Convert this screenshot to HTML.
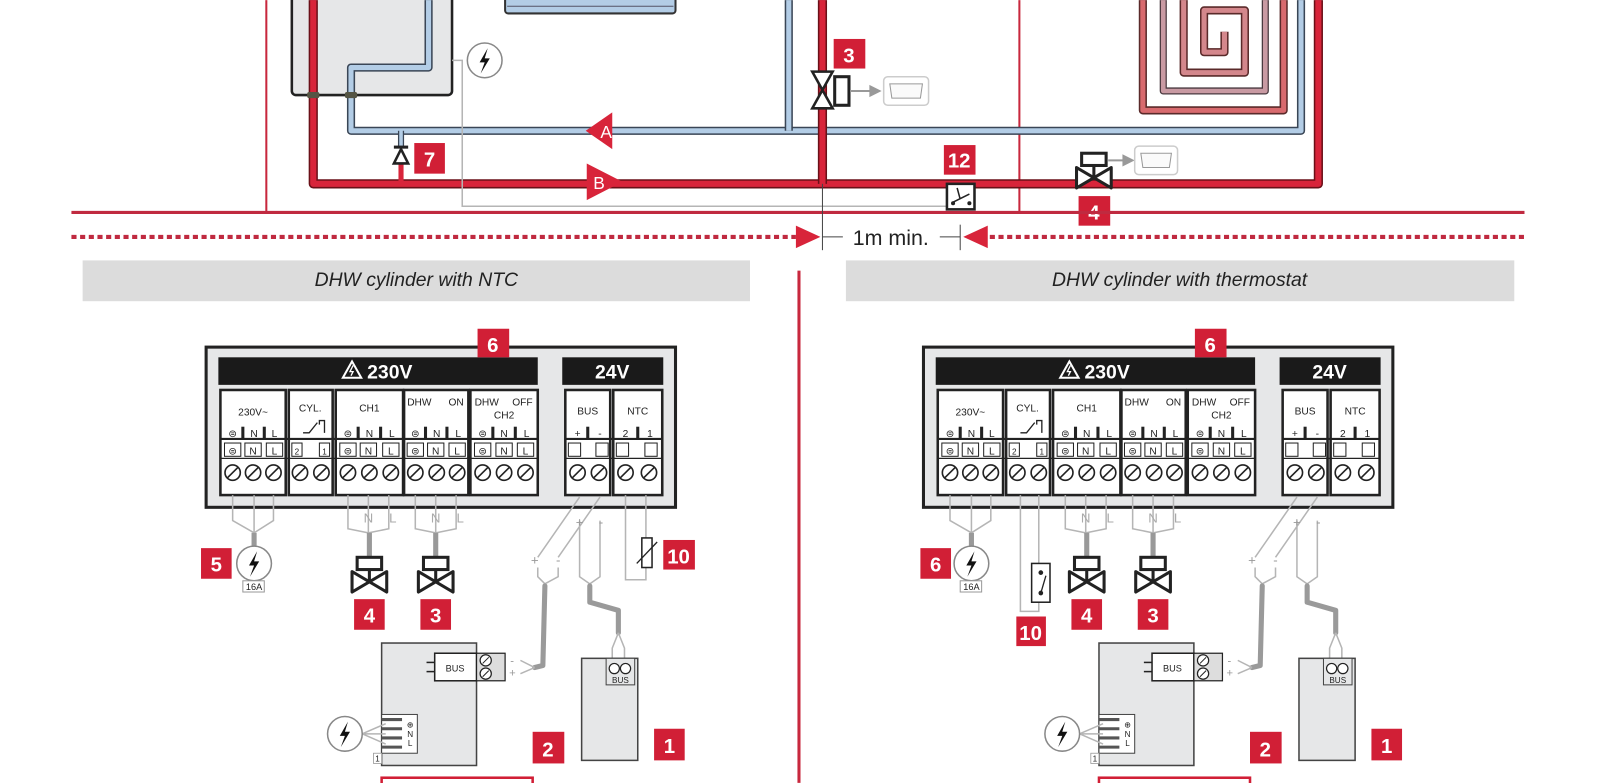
<!DOCTYPE html>
<html><head><meta charset="utf-8"><style>
html,body{margin:0;padding:0;background:#fff;}
svg{display:block;}
text{font-family:"Liberation Sans","DejaVu Sans",sans-serif;}
.lb{fill:#d11f36;}
.lt{fill:#fff;font-weight:bold;font-size:20px;text-anchor:middle;}
.gw{fill:none;stroke:#b5b5b5;stroke-width:1.5;}
.gc{fill:none;stroke:#9a9a9a;stroke-width:5;stroke-linecap:round;stroke-linejoin:round;}
.tt{font-size:10px;fill:#222;text-anchor:middle;font-family:"DejaVu Sans Condensed","Liberation Sans",sans-serif;}
</style></head><body>
<svg width="1600" height="783" viewBox="0 0 1568 767" xmlns="http://www.w3.org/2000/svg">
<defs>
<g id="sc"><circle r="7.5" fill="#fff" stroke="#222" stroke-width="1.6"/><line x1="-5" y1="5" x2="5" y2="-5" stroke="#222" stroke-width="1.6"/></g>
<g id="valve"><rect x="-12" y="0" width="24" height="12" fill="#fff" stroke="#222" stroke-width="3"/><line x1="0" y1="12" x2="0" y2="24" stroke="#222" stroke-width="3"/><path d="M-17,14 L17,34 L17,14 L-17,34 Z" fill="#fff" stroke="#222" stroke-width="3" stroke-linejoin="round"/></g>
<g id="bolt"><circle r="17" fill="#fff" stroke="#888" stroke-width="1.5"/><path d="M3,-12 L-5,2 L0,2 L-4,13 L5,-2 L0,-2 Z" fill="#111"/></g>
</defs>

<line x1="261" y1="0" x2="261" y2="208" stroke="#c8283d" stroke-width="2"/>
<line x1="999" y1="0" x2="999" y2="208" stroke="#c8283d" stroke-width="2"/>
<rect x="495" y="-5" width="167" height="18" rx="3" fill="#b3cde6" stroke="#333" stroke-width="2"/>
<line x1="497" y1="6" x2="660" y2="6" stroke="#556" stroke-width="1"/>
<rect x="286" y="-6" width="157" height="99" rx="4" fill="#e6e7e8" stroke="#222" stroke-width="2.5"/>
<g fill="none" stroke-linejoin="round">
<path d="M1120,0 L1120,108 L1258,108 L1258,0" stroke="#5a2a2a" stroke-width="8"/>
<path d="M1120,0 L1120,108 L1258,108 L1258,0" stroke="#d86a6e" stroke-width="5"/>
<path d="M1140,0 L1140,89 L1240,89 L1240,0" stroke="#4a3a40" stroke-width="7"/>
<path d="M1140,0 L1140,89 L1240,89 L1240,0" stroke="#c99aa3" stroke-width="4.5"/>
<path d="M1160,0 L1160,71 L1220,71 L1220,10 L1180,10 L1180,51 L1200,51 L1200,31" stroke="#5a2a2a" stroke-width="8"/>
<path d="M1160,0 L1160,71 L1220,71 L1220,10 L1180,10 L1180,51 L1200,51 L1200,31" stroke="#d4878c" stroke-width="5"/>
</g>
<g fill="none" stroke-linejoin="round">
<path d="M420,0 L420,66 L344,66 L344,128 L1275,128 L1275,0" stroke="#3a4656" stroke-width="8"/>
<path d="M420,0 L420,66 L344,66 L344,128 L1275,128 L1275,0" stroke="#b3cde6" stroke-width="5"/>
<path d="M773,0 L773,128" stroke="#3a4656" stroke-width="8"/>
<path d="M773,0 L773,128" stroke="#b3cde6" stroke-width="5"/>
<path d="M393,128 L393,145" stroke="#3a4656" stroke-width="6"/>
<path d="M393,126 L393,145" stroke="#b3cde6" stroke-width="3.5"/>
</g>
<g fill="none" stroke-linejoin="round">
<path d="M307,0 L307,180 L1292,180 L1292,0" stroke="#6a1018" stroke-width="9"/>
<path d="M307,0 L307,180 L1292,180 L1292,0" stroke="#d8243a" stroke-width="6"/>
<path d="M806,0 L806,180" stroke="#6a1018" stroke-width="9"/>
<path d="M806,0 L806,182" stroke="#d8243a" stroke-width="6"/>
<path d="M393,160 L393,180" stroke="#d8243a" stroke-width="5"/>
</g>
<rect x="301" y="90" width="12" height="6" rx="2" fill="#554" /><rect x="338" y="90" width="12" height="6" rx="2" fill="#554"/>
<path d="M574,128 L600,110 L600,146 Z" fill="#d8243a"/><text x="594" y="135" font-size="17" fill="#fff" text-anchor="middle">A</text>
<path d="M575,160 L610,178 L575,196 Z" fill="#d8243a"/><text x="587" y="185" font-size="17" fill="#fff" text-anchor="middle">B</text>
<line x1="386" y1="144" x2="400" y2="144" stroke="#222" stroke-width="3"/>
<path d="M393,146 L386,160 L400,160 Z" fill="#fff" stroke="#222" stroke-width="2.5"/>
<rect class="lb" x="406" y="140" width="30" height="30"/><text class="lt" x="421" y="163">7</text>
<path d="M443,59 L453,59 L453,202 L928,202" class="gw"/>
<use href="#bolt" x="475" y="59"/>
<path d="M796,70 L816,70 L796,106 L816,106 Z" fill="#fff" stroke="#222" stroke-width="2.5"/>
<rect x="818" y="75" width="14" height="28" fill="#fff" stroke="#222" stroke-width="3"/>
<line x1="833" y1="89" x2="856" y2="89" stroke="#999" stroke-width="2"/><path d="M852,83 L864,89 L852,95 Z" fill="#999"/>
<rect x="866" y="75" width="44" height="28" rx="4" fill="#fff" stroke="#ccc" stroke-width="1.5"/><path d="M872,82 L904,82 L902,96 L874,96 Z" fill="#fafafa" stroke="#999"/>
<rect class="lb" x="817" y="38" width="31" height="29"/><text class="lt" x="832" y="61">3</text>
<rect class="lb" x="925" y="142" width="31" height="29"/><text class="lt" x="940" y="164">12</text>
<rect x="928" y="180" width="27" height="25" fill="#fff" stroke="#222" stroke-width="2.5"/>
<path d="M934,198 L950,190 M938,184 L941,195" stroke="#222" stroke-width="1.5"/><circle cx="934" cy="199" r="2" fill="#222"/><circle cx="950" cy="199" r="2" fill="#222"/>
<use href="#valve" x="1072" y="150"/>
<line x1="1086" y1="157" x2="1104" y2="157" stroke="#999" stroke-width="2"/><path d="M1100,151 L1112,157 L1100,163 Z" fill="#999"/>
<rect x="1112" y="143" width="42" height="28" rx="4" fill="#fff" stroke="#ccc" stroke-width="1.5"/><path d="M1118,150 L1148,150 L1146,164 L1120,164 Z" fill="#fafafa" stroke="#999"/>
<rect class="lb" x="1057" y="192" width="31" height="29"/><text class="lt" x="1072" y="215">4</text>
<line x1="70" y1="208" x2="1494" y2="208" stroke="#c02a40" stroke-width="3"/>
<line x1="70" y1="232" x2="780" y2="232" stroke="#c02a40" stroke-width="4" stroke-dasharray="5,3.5"/>
<line x1="970" y1="232" x2="1494" y2="232" stroke="#c02a40" stroke-width="4" stroke-dasharray="5,3.5"/>
<path d="M780,221 L804,232 L780,243 Z" fill="#d8243a"/><path d="M968,221 L944,232 L968,243 Z" fill="#d8243a"/>
<line x1="806" y1="180" x2="806" y2="245" stroke="#444" stroke-width="1"/>
<line x1="941" y1="220" x2="941" y2="245" stroke="#444" stroke-width="1"/>
<line x1="806" y1="232" x2="826" y2="232" stroke="#444"/><line x1="921" y1="232" x2="941" y2="232" stroke="#444"/>
<text x="873" y="240" font-size="21" fill="#222" text-anchor="middle">1m min.</text>

<rect x="81" y="255" width="654" height="40" fill="#dcdcdc"/>
<text x="408" y="280" font-size="19" font-style="italic" fill="#222" text-anchor="middle">DHW cylinder with NTC</text>
<rect x="829" y="255" width="655" height="40" fill="#dcdcdc"/>
<text x="1156" y="280" font-size="19" font-style="italic" fill="#222" text-anchor="middle">DHW cylinder with thermostat</text>
<line x1="783" y1="265" x2="783" y2="767" stroke="#c8283d" stroke-width="3"/>

<g id="pan">
<rect x="202" y="340" width="460" height="157" fill="#e6e7e8" stroke="#222" stroke-width="3"/>
<rect x="214" y="350" width="313" height="27" fill="#1a1a1a"/>
<path d="M345,354 L336,370 L354,370 Z" fill="none" stroke="#fff" stroke-width="2"/><path d="M346,358 L343,364 L346,364 L344,368" stroke="#fff" stroke-width="1.3" fill="none"/>
<text x="382" y="371" font-size="19" font-weight="bold" fill="#fff" text-anchor="middle">230V</text>
<rect x="551" y="350" width="99" height="27" fill="#1a1a1a"/>
<text x="600" y="371" font-size="19" font-weight="bold" fill="#fff" text-anchor="middle">24V</text>
<rect class="lb" x="468" y="322" width="31" height="28"/>
<g fill="#fff" stroke="#222" stroke-width="2.5">
<rect x="216" y="382" width="64" height="103"/><rect x="283" y="382" width="43" height="103"/><rect x="329" y="382" width="66" height="103"/><rect x="396" y="382" width="63" height="103"/><rect x="461" y="382" width="66" height="103"/><rect x="554" y="382" width="44" height="103"/><rect x="601" y="382" width="48" height="103"/>
</g>
<g stroke="#222" stroke-width="2">
<line x1="216" y1="430" x2="527" y2="430"/><line x1="554" y1="430" x2="649" y2="430"/>
<line x1="216" y1="449" x2="527" y2="449" stroke-width="1.2"/><line x1="554" y1="449" x2="649" y2="449" stroke-width="1.2"/>
</g>
<g stroke="#222" stroke-width="3">
<line x1="238" y1="418" x2="238" y2="431"/><line x1="259" y1="418" x2="259" y2="431"/>
<line x1="351" y1="418" x2="351" y2="431"/><line x1="373" y1="418" x2="373" y2="431"/>
<line x1="417" y1="418" x2="417" y2="431"/><line x1="438" y1="418" x2="438" y2="431"/>
<line x1="483" y1="418" x2="483" y2="431"/><line x1="505" y1="418" x2="505" y2="431"/>
<line x1="576" y1="418" x2="576" y2="431"/><line x1="625" y1="418" x2="625" y2="431"/>
</g>
<g stroke="#222" stroke-width="1" fill="none">
<rect x="220" y="434" width="16" height="13"/><rect x="240" y="434" width="16" height="13"/><rect x="261" y="434" width="16" height="13"/>
<rect x="286" y="434" width="10" height="13"/><rect x="313" y="434" width="10" height="13"/>
<rect x="333" y="434" width="16" height="13"/><rect x="353" y="434" width="16" height="13"/><rect x="375" y="434" width="16" height="13"/>
<rect x="399" y="434" width="16" height="13"/><rect x="419" y="434" width="16" height="13"/><rect x="440" y="434" width="16" height="13"/>
<rect x="465" y="434" width="16" height="13"/><rect x="486" y="434" width="16" height="13"/><rect x="507" y="434" width="16" height="13"/>
<rect x="557" y="434" width="12" height="13"/><rect x="584" y="434" width="12" height="13"/>
<rect x="604" y="434" width="12" height="13"/><rect x="632" y="434" width="12" height="13"/>
</g>
<g class="tt">
<text x="248" y="407">230V~</text><text x="304" y="403">CYL.</text><text x="362" y="403">CH1</text>
<text x="411" y="397">DHW</text><text x="447" y="397">ON</text><text x="477" y="397">DHW</text><text x="512" y="397">OFF</text><text x="494" y="410">CH2</text>
<text x="576" y="406">BUS</text><text x="625" y="406">NTC</text>
<text x="228" y="428">⊜</text><text x="249" y="428">N</text><text x="269" y="428">L</text>
<text x="341" y="428">⊜</text><text x="362" y="428">N</text><text x="384" y="428">L</text>
<text x="407" y="428">⊜</text><text x="428" y="428">N</text><text x="449" y="428">L</text>
<text x="473" y="428">⊜</text><text x="494" y="428">N</text><text x="516" y="428">L</text>
<text x="566" y="428">+</text><text x="588" y="428">-</text><text x="613" y="428">2</text><text x="637" y="428">1</text>
<text x="228" y="445">⊜</text><text x="248" y="445">N</text><text x="269" y="445">L</text>
<text x="291" y="445" font-size="8">2</text><text x="318" y="445" font-size="8">1</text>
<text x="341" y="445">⊜</text><text x="361" y="445">N</text><text x="383" y="445">L</text>
<text x="407" y="445">⊜</text><text x="427" y="445">N</text><text x="448" y="445">L</text>
<text x="473" y="445">⊜</text><text x="494" y="445">N</text><text x="515" y="445">L</text>
</g>
<path d="M297,424 L303,424 L311,414 M313,416 L313,412 L318,412 L318,424" stroke="#222" stroke-width="1.3" fill="none"/>
<g>
<use href="#sc" x="228" y="463"/><use href="#sc" x="248" y="463"/><use href="#sc" x="268" y="463"/>
<use href="#sc" x="294" y="463"/><use href="#sc" x="315" y="463"/>
<use href="#sc" x="341" y="463"/><use href="#sc" x="362" y="463"/><use href="#sc" x="383" y="463"/>
<use href="#sc" x="407" y="463"/><use href="#sc" x="428" y="463"/><use href="#sc" x="448" y="463"/>
<use href="#sc" x="473" y="463"/><use href="#sc" x="494" y="463"/><use href="#sc" x="515" y="463"/>
<use href="#sc" x="566" y="463"/><use href="#sc" x="587" y="463"/>
<use href="#sc" x="613" y="463"/><use href="#sc" x="636" y="463"/>
</g>
<path class="gw" d="M228,485 L228,510 L249,522 M249,485 L249,522 M268,485 L268,510 L249,522"/>
<line x1="249" y1="522" x2="249" y2="536" stroke="#999" stroke-width="5"/>
<use href="#bolt" x="249" y="552"/>
<rect x="238" y="569" width="21" height="11" fill="#fff" stroke="#999"/><text x="249" y="578" font-size="9" text-anchor="middle" fill="#222">16A</text>
<path class="gw" d="M341,485 L341,518 L361,522 M381,485 L381,518 L361,522 M361,485 L361,522"/>
<text x="361" y="512" font-size="13" fill="#aaa" text-anchor="middle">N</text><text x="385" y="512" font-size="13" fill="#aaa" text-anchor="middle">L</text>
<line x1="362" y1="522" x2="362" y2="546" stroke="#999" stroke-width="5"/>
<use href="#valve" x="362" y="546"/>
<rect class="lb" x="347" y="587" width="30" height="30"/><text class="lt" x="362" y="610">4</text>
<path class="gw" d="M407,485 L407,518 L427,522 M447,485 L447,518 L427,522 M427,485 L427,522"/>
<text x="427" y="512" font-size="13" fill="#aaa" text-anchor="middle">N</text><text x="451" y="512" font-size="13" fill="#aaa" text-anchor="middle">L</text>
<line x1="427" y1="522" x2="427" y2="546" stroke="#999" stroke-width="5"/>
<use href="#valve" x="427" y="546"/>
<rect class="lb" x="412" y="587" width="30" height="30"/><text class="lt" x="427" y="610">3</text>
<path class="gw" d="M568,487 L527,546 M588,487 L547,546 M568,510 L568,565 L578,572 M588,510 L588,565 L578,572 M527,556 L527,565 L534,572 M547,556 L547,565 L534,572"/>
<text x="568" y="516" font-size="13" fill="#999" text-anchor="middle">+</text><text x="589" y="516" font-size="13" fill="#999" text-anchor="middle">-</text>
<text x="524" y="553" font-size="13" fill="#999" text-anchor="middle">+</text><text x="547" y="553" font-size="13" fill="#999" text-anchor="middle">-</text>
<path class="gc" d="M578,574 L578,590 L606,598 L606,620"/>
<path class="gc" d="M534,574 L532,652 L524,654"/>
<path class="gw" d="M606,620 L600,635 L600,647 M606,620 L612,635 L612,647 M524,654 L510,647 M524,654 L510,660"/>
<rect x="374" y="630" width="93" height="120" fill="#e6e7e8" stroke="#444" stroke-width="1.5"/>
<rect x="426" y="640" width="41" height="27" fill="#fff" stroke="#222" stroke-width="1.5"/>
<text x="446" y="658" font-size="9" text-anchor="middle" fill="#222">BUS</text>
<line x1="418" y1="649" x2="426" y2="649" stroke="#222" stroke-width="1.5"/><line x1="418" y1="658" x2="426" y2="658" stroke="#222" stroke-width="1.5"/>
<rect x="467" y="640" width="28" height="27" fill="#ddd" stroke="#222" stroke-width="1.2"/>
<circle cx="476" cy="647" r="5.5" fill="#fff" stroke="#222" stroke-width="1.2"/><circle cx="476" cy="660" r="5.5" fill="#fff" stroke="#222" stroke-width="1.2"/>
<line x1="473" y1="650" x2="479" y2="644" stroke="#222"/><line x1="473" y1="663" x2="479" y2="657" stroke="#222"/>
<text x="500" y="651" font-size="11" fill="#999">-</text><text x="499" y="663" font-size="11" fill="#999">+</text>
<rect x="374" y="700" width="35" height="38" fill="#fff" stroke="#444" stroke-width="1"/>
<g stroke="#555" stroke-width="3"><line x1="374" y1="705" x2="394" y2="705"/><line x1="374" y1="714" x2="394" y2="714"/><line x1="374" y1="723" x2="394" y2="723"/><line x1="374" y1="732" x2="394" y2="732"/></g>
<text x="402" y="713" font-size="8" fill="#222" text-anchor="middle">⊕</text><text x="402" y="722" font-size="8" fill="#222" text-anchor="middle">N</text><text x="402" y="731" font-size="8" fill="#222" text-anchor="middle">L</text>
<rect x="366" y="738" width="8" height="10" fill="#fff" stroke="#999" stroke-width="0.8"/><text x="370" y="746" font-size="8" fill="#222" text-anchor="middle">1</text>
<path class="gw" d="M355,719 L378,709 M355,719 L378,719 M355,719 L378,729"/>
<use href="#bolt" x="338" y="719"/>
<rect class="lb" x="522" y="717" width="31" height="31"/><text class="lt" x="537" y="741">2</text>
<rect x="570" y="645" width="55" height="100" fill="#e6e7e8" stroke="#444" stroke-width="1.5"/>
<rect x="594" y="645" width="28" height="26" fill="#e6e7e8" stroke="#444" stroke-width="1"/>
<circle cx="602" cy="655" r="5" fill="#fff" stroke="#222" stroke-width="1.2"/><circle cx="613" cy="655" r="5" fill="#fff" stroke="#222" stroke-width="1.2"/>
<text x="608" y="669" font-size="8" fill="#222" text-anchor="middle">BUS</text>
<rect class="lb" x="641" y="714" width="30" height="31"/><text class="lt" x="656" y="738">1</text>
<rect x="374" y="762" width="148" height="10" fill="none" stroke="#d11f36" stroke-width="2.5"/>
</g>
<text class="lt" x="483" y="345">6</text>
<rect class="lb" x="197" y="537" width="30" height="30"/><text class="lt" x="212" y="560">5</text>
<path class="gw" d="M613,485 L613,568 L633,568 L633,485"/>
<rect x="629" y="527" width="10" height="29" fill="#fff" stroke="#222" stroke-width="1.5"/>
<line x1="624" y1="552" x2="644" y2="531" stroke="#222" stroke-width="1.3"/>
<rect class="lb" x="650" y="529" width="31" height="29"/><text class="lt" x="665" y="552">10</text>

<use href="#pan" x="703" y="0"/>
<text class="lt" x="1186" y="345">6</text>
<rect class="lb" x="902" y="537" width="30" height="30"/><text class="lt" x="917" y="560">6</text>
<path class="gw" d="M1000,485 L1000,599 L1018,599 L1018,485"/>
<rect x="1011" y="552" width="18" height="38" fill="#fff" stroke="#222" stroke-width="1.5"/>
<circle cx="1020" cy="561" r="2.3" fill="#222"/><circle cx="1020" cy="581" r="2.3" fill="#222"/>
<line x1="1020" y1="581" x2="1025" y2="564" stroke="#222" stroke-width="1.3"/>
<rect class="lb" x="996" y="604" width="29" height="29"/><text class="lt" x="1010" y="627">10</text>
</svg>
</body></html>
